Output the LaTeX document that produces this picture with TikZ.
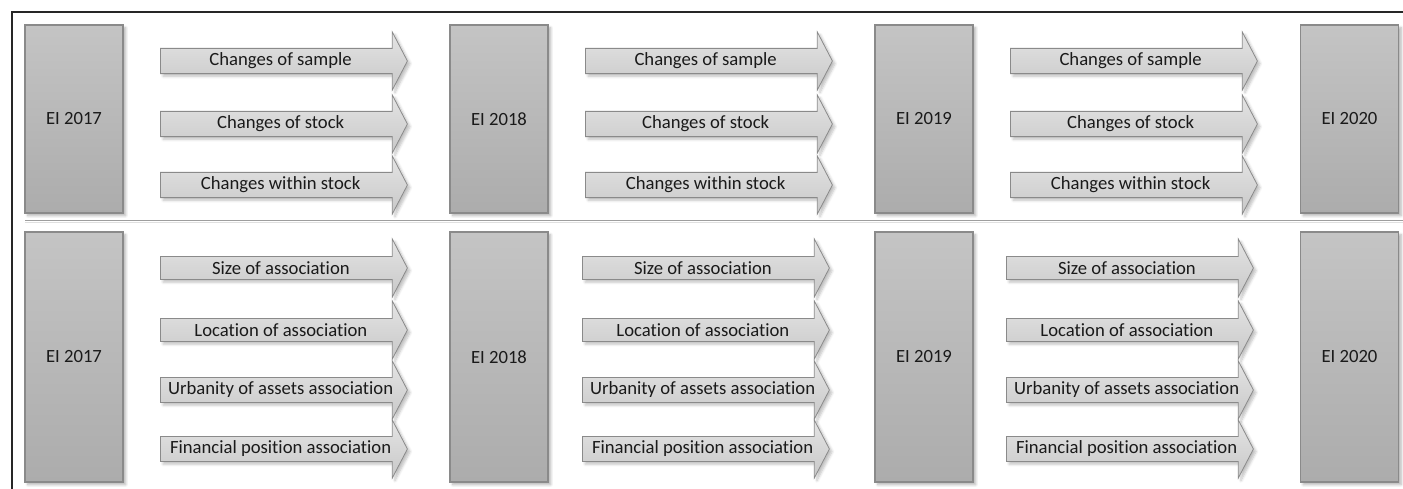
\documentclass[tikz,border=0pt]{standalone}
\usepackage{fontspec}
\setmainfont{Carlito}[Ligatures=NoCommon]
\usetikzlibrary{shapes.arrows,shadows.blur}
\usetikzlibrary{positioning}
\definecolor{boxtop}{HTML}{C4C4C4}
\definecolor{boxbot}{HTML}{ACACAC}
\definecolor{arrtop}{HTML}{E4E4E4}
\definecolor{arrbot}{HTML}{C8C8C8}
\definecolor{edge}{HTML}{8A8A8A}
\definecolor{ink}{HTML}{1A1A1A}
\tikzstyle{survey} = [rectangle, minimum width=73.5pt, minimum height=141pt, draw=edge, line width=0.8pt, top color=boxtop, bottom color=boxbot, blur shadow={shadow xshift=2pt, shadow yshift=-2pt, shadow blur steps=6, shadow opacity=30}, text=ink, font=\fontsize{14}{16}\selectfont]
\tikzstyle{surveytall} = [survey, minimum height=187.5pt]
\tikzstyle{change} = [single arrow, single arrow tip angle=125, single arrow head extend=10.875pt, minimum height=185.25pt, minimum width=43.5pt, inner ysep=2pt, draw=edge, line width=0.6pt, top color=arrtop, bottom color=arrbot, blur shadow={shadow xshift=2pt, shadow yshift=-2pt, shadow blur steps=5, shadow opacity=25}, anchor=tail, text=ink, font=\fontsize{14}{16}\selectfont]

\begin{document}
\begin{tikzpicture}[x=0.75pt, y=-0.75pt, node distance=10 cm]
\useasboundingbox (0,0) rectangle (1403,489);

% frame and divider
\draw[line width=1.1pt, black!85] (12,489) -- (12,12) -- (1403,12);
\draw[line width=1pt, black!38] (25,220.5) -- (1403,220.5);
\draw[line width=0.8pt, black!12] (25,222.5) -- (1403,222.5);

% upper row: sample and stock
\node (t17) [survey] at (74,119) {EI 2017};
\node (t18) [survey] at (499,119) {EI 2018};
\node (t19) [survey] at (924,119) {EI 2019};
\node (t20) [survey] at (1349.5,119) {EI 2020};

\node (ta1) [change] at (160,61) {Changes of sample};
\node (ta2) [change] at (160,124) {Changes of stock};
\node (ta3) [change] at (160,185) {Changes within stock};

\node (tb1) [change] at (585,61) {Changes of sample};
\node (tb2) [change] at (585,124) {Changes of stock};
\node (tb3) [change] at (585,185) {Changes within stock};

\node (tc1) [change] at (1010,61) {Changes of sample};
\node (tc2) [change] at (1010,124) {Changes of stock};
\node (tc3) [change] at (1010,185) {Changes within stock};

% lower row: association
\node (b17) [surveytall] at (74,357) {EI 2017};
\node (b18) [surveytall] at (499,357) {EI 2018};
\node (b19) [surveytall] at (924,357) {EI 2019};
\node (b20) [surveytall] at (1349.5,357) {EI 2020};

\node (ba1) [change] at (160,268) {Size of association};
\node (ba2) [change] at (160,330) {Location of association};
\node (ba3) [change] at (160,390) {Urbanity of assets association};
\node (ba4) [change] at (160,449) {Financial position association};

\node (bb1) [change] at (582,268) {Size of association};
\node (bb2) [change] at (582,330) {Location of association};
\node (bb3) [change] at (582,390) {Urbanity of assets association};
\node (bb4) [change] at (582,449) {Financial position association};

\node (bc1) [change] at (1006,268) {Size of association};
\node (bc2) [change] at (1006,330) {Location of association};
\node (bc3) [change] at (1006,390) {Urbanity of assets association};
\node (bc4) [change] at (1006,449) {Financial position association};
\end{tikzpicture}
\end{document}
